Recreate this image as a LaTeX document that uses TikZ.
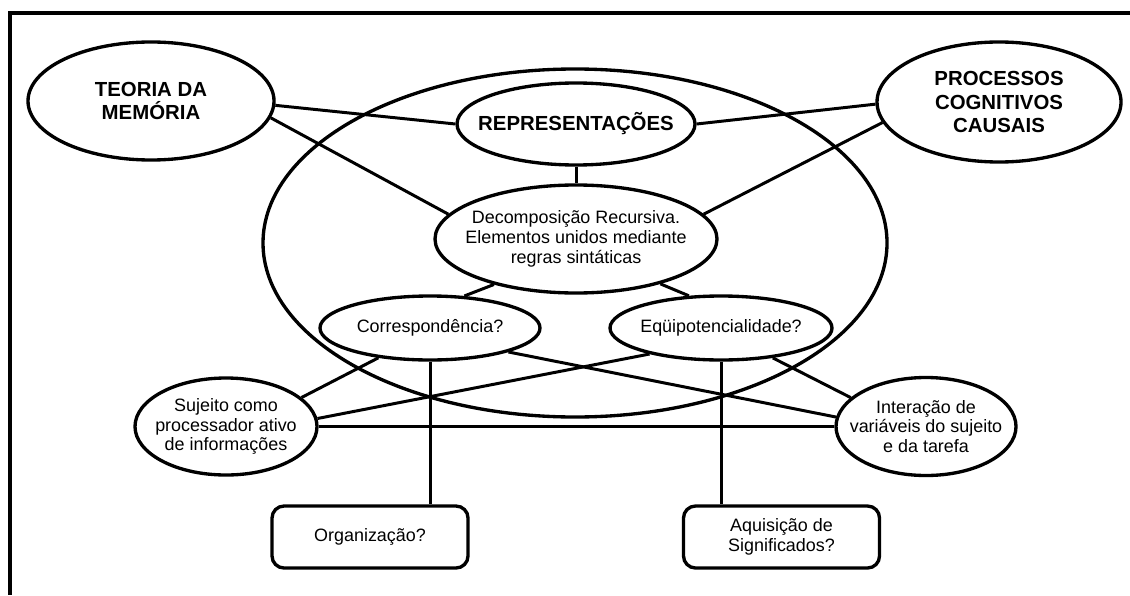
\documentclass[tikz,border=0pt]{standalone}
\usepackage{fontspec}
\setmainfont{Liberation Sans}
\usetikzlibrary{shapes.geometric}
\begin{document}
\begin{tikzpicture}[
  elipse/.style={draw,ellipse,line width=0.95pt,inner xsep=-0.3cm,inner ysep=0pt,align=center,font=\fontsize{5.1}{5.6}\selectfont},
  titulo/.style={elipse,font=\fontsize{5.8}{6.6}\selectfont\bfseries},
  caixa/.style={draw,rounded corners=0.12cm,line width=0.95pt,minimum width=1.96cm,minimum height=0.62cm,align=center,font=\fontsize{5.1}{5.6}\selectfont},
  liga/.style={line width=0.85pt}]
\useasboundingbox (0,0) rectangle (11.3,-5.95);
\draw[line width=1.1pt](11.3,-0.13)--(0.1,-0.13)--(0.1,-5.95);

% grande elipse
\node[draw,ellipse,line width=0.95pt,minimum width=6.24cm,minimum height=3.48cm] (campo) at (5.75,-2.43) {};

\node[titulo,minimum width=2.46cm,minimum height=1.18cm] (teoria) at (1.51,-1.01) {TEORIA DA\\MEMÓRIA};
\node[titulo,minimum width=2.44cm,minimum height=1.2cm] (proc) at (9.99,-1.02) {PROCESSOS\\COGNITIVOS\\CAUSAIS};
\node[titulo,minimum width=2.38cm,minimum height=0.82cm] (rep) at (5.76,-1.24) {REPRESENTAÇÕES};
\node[elipse,minimum width=2.82cm,minimum height=1.08cm] (decomp) at (5.76,-2.39) {Decomposição Recursiva.\\Elementos unidos mediante\\regras sintáticas};
\node[elipse,minimum width=2.2cm,minimum height=0.64cm] (corr) at (4.3,-3.28) {Correspondência?};
\node[elipse,minimum width=2.22cm,minimum height=0.64cm] (equi) at (7.21,-3.28) {Eqüipotencialidade?};
\node[elipse,minimum width=1.82cm,minimum height=0.97cm] (sujeito) at (2.26,-4.265) {Sujeito como\\processador ativo\\de informações};
\node[elipse,minimum width=1.8cm,minimum height=0.98cm] (inter) at (9.26,-4.265) {Interação de\\variáveis do sujeito\\e da tarefa};
\node[caixa] (org) at (3.7,-5.37) {Organização?};
\node[caixa] (aquis) at (7.815,-5.37) {Aquisição de\\Significados?};

\draw[liga](teoria.-2)--(rep.west);
\draw[liga](teoria.-8)--(decomp.169);
\draw[liga](rep.east)--(proc.181);
\draw[liga](decomp.11)--(proc.190);
\draw[liga](rep)--(decomp);
\draw[liga](decomp.209)--(corr.43);
\draw[liga](decomp.-28)--(equi.135);
\draw[liga](corr.210)--(sujeito.21);
\draw[liga](equi.200)--(sujeito.5);
\draw[liga](corr.-17)--(inter.174);
\draw[liga](equi.-30)--(inter.159);
\draw[liga](sujeito.east)--(inter.west);
\draw[liga](corr.south)--(corr.south |- org.north);
\draw[liga](equi.south)--(equi.south |- aquis.north);
\end{tikzpicture}
\end{document}
